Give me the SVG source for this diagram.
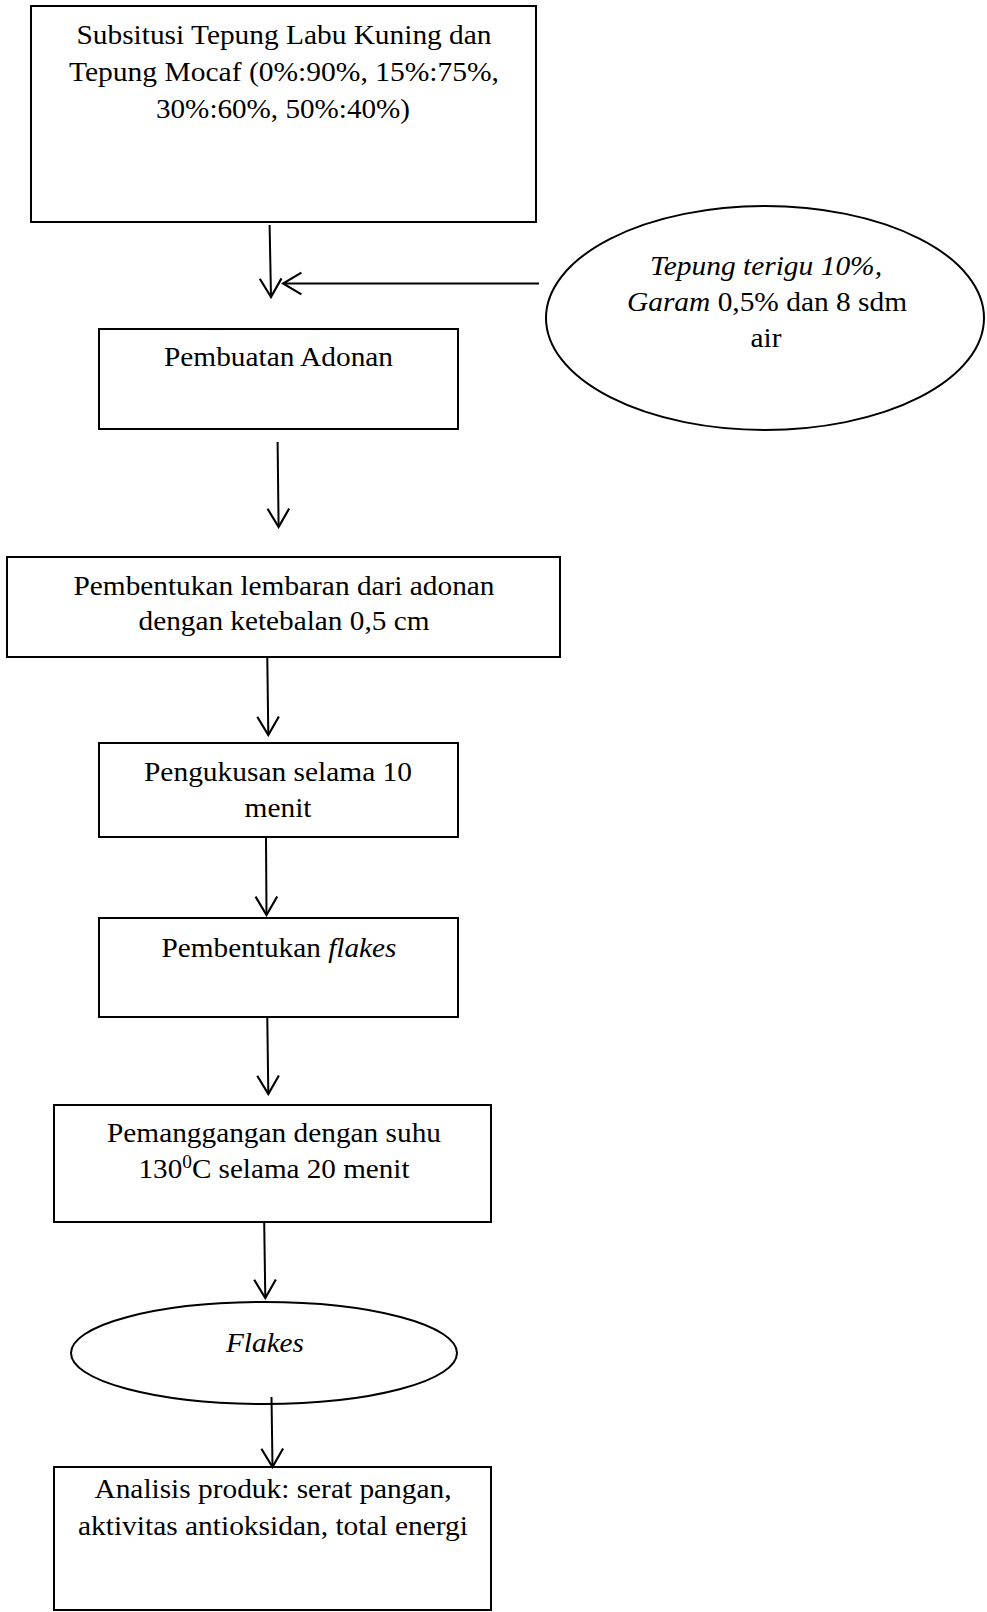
<svg xmlns="http://www.w3.org/2000/svg" width="987" height="1612" viewBox="0 0 987 1612">
<style>
.n{fill:#fff;stroke:#000;stroke-width:2}
.t{font-family:"Liberation Serif","Times New Roman",serif;font-size:27px;fill:#000;text-anchor:middle}
.i{font-style:italic}
.c{fill:none;stroke:#000;stroke-width:2}
</style>
<defs>
<marker id="a" markerUnits="userSpaceOnUse" markerWidth="24" markerHeight="26" viewBox="-20 -12 22 24" refX="0" refY="0" orient="auto">
<path d="M-17,-10 L0,0 L-17,10" fill="none" stroke="#000" stroke-width="2"/>
</marker>
</defs>
<rect width="987" height="1612" fill="#fff"/>
<g id="n1"><rect class="n" x="31" y="6" width="505" height="216"/>
<text class="t" x="284" y="44" textLength="415" lengthAdjust="spacingAndGlyphs">Subsitusi Tepung Labu Kuning dan</text>
<text class="t" x="284" y="81" textLength="430" lengthAdjust="spacingAndGlyphs">Tepung Mocaf (0%:90%, 15%:75%,</text>
<text class="t" x="283" y="118" textLength="254" lengthAdjust="spacingAndGlyphs">30%:60%, 50%:40%)</text></g>
<g id="n2"><ellipse class="n" cx="765" cy="318" rx="219" ry="112"/>
<text class="t" x="766" y="275" textLength="232" lengthAdjust="spacingAndGlyphs"><tspan class="i">Tepung terigu 10%,</tspan></text>
<text class="t" x="767" y="311" textLength="280" lengthAdjust="spacingAndGlyphs"><tspan class="i">Garam</tspan> 0,5% dan 8 sdm</text>
<text class="t" x="766" y="347" textLength="31" lengthAdjust="spacingAndGlyphs">air</text></g>
<g id="n3"><rect class="n" x="99" y="329" width="359" height="100"/>
<text class="t" x="278.5" y="366" textLength="229" lengthAdjust="spacingAndGlyphs">Pembuatan Adonan</text></g>
<g id="n4"><rect class="n" x="7" y="557" width="553" height="100"/>
<text class="t" x="284" y="595" textLength="421" lengthAdjust="spacingAndGlyphs">Pembentukan lembaran dari adonan</text>
<text class="t" x="284" y="630" textLength="291" lengthAdjust="spacingAndGlyphs">dengan ketebalan 0,5 cm</text></g>
<g id="n5"><rect class="n" x="99" y="743" width="359" height="94"/>
<text class="t" x="278" y="781" textLength="268" lengthAdjust="spacingAndGlyphs">Pengukusan selama 10</text>
<text class="t" x="278" y="817" textLength="67" lengthAdjust="spacingAndGlyphs">menit</text></g>
<g id="n6"><rect class="n" x="99" y="918" width="359" height="99"/>
<text class="t" x="279" y="957" textLength="235" lengthAdjust="spacingAndGlyphs">Pembentukan <tspan class="i">flakes</tspan></text></g>
<g id="n7"><rect class="n" x="54" y="1105" width="437" height="117"/>
<text class="t" x="274" y="1142" textLength="334" lengthAdjust="spacingAndGlyphs">Pemanggangan dengan suhu</text>
<text class="t" x="274" y="1178" textLength="271" lengthAdjust="spacingAndGlyphs">130<tspan font-size="18" dy="-10">0</tspan><tspan dy="10">C selama 20 menit</tspan></text></g>
<g id="n8"><ellipse class="n" cx="264" cy="1353" rx="193" ry="51"/>
<text class="t i" x="265" y="1352" textLength="78" lengthAdjust="spacingAndGlyphs">Flakes</text></g>
<g id="n9"><rect class="n" x="54" y="1467" width="437" height="143"/>
<text class="t" x="273" y="1498" textLength="357" lengthAdjust="spacingAndGlyphs">Analisis produk: serat pangan,</text>
<text class="t" x="273" y="1535" textLength="390" lengthAdjust="spacingAndGlyphs">aktivitas antioksidan, total energi</text></g>
<g id="connectors">
<line class="c" x1="269.6" y1="225" x2="271" y2="297" marker-end="url(#a)"/>
<line class="c" x1="539" y1="283.5" x2="283" y2="283.5" marker-end="url(#a)"/>
<line class="c" x1="277.6" y1="442" x2="278.6" y2="527" marker-end="url(#a)"/>
<line class="c" x1="267.3" y1="658" x2="268.3" y2="735" marker-end="url(#a)"/>
<line class="c" x1="266" y1="838" x2="266.5" y2="915" marker-end="url(#a)"/>
<line class="c" x1="267.3" y1="1018" x2="268.3" y2="1094" marker-end="url(#a)"/>
<line class="c" x1="264.2" y1="1223" x2="265.3" y2="1298" marker-end="url(#a)"/>
<line class="c" x1="271.5" y1="1397" x2="272.5" y2="1467" marker-end="url(#a)"/>
</g>
</svg>
